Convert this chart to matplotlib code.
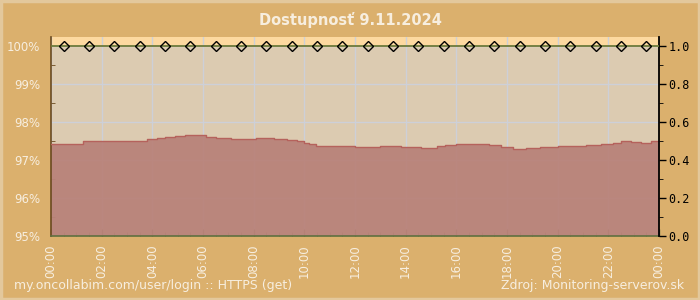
import numpy as np
import matplotlib
matplotlib.use("Agg")
import matplotlib.pyplot as plt
from matplotlib.patches import Rectangle

# ─── Data ─────────────────────────────────────────────────────────────────────
TITLE = "Dostupnosť 9.11.2024"
FOOT_LEFT = "my.oncollabim.com/user/login :: HTTPS (get)"
FOOT_RIGHT = "Zdroj: Monitoring-serverov.sk"

# availability (%) over the day, hours since midnight
hours = [0.0, 0.67, 1.25, 2.0, 3.0, 3.5, 3.8, 4.2, 4.5, 4.9, 5.3, 5.7, 6.1,
         6.5, 7.1, 8.1, 8.8, 9.3, 9.7, 10.0, 10.2, 10.45, 12.0, 13.0, 13.8,
         14.6, 14.7, 15.25, 15.55, 16.0, 16.65, 17.3, 17.75, 18.25, 18.75,
         19.3, 20.0, 21.1, 21.7, 22.2, 22.5, 22.9, 23.3, 23.7, 24.0]
availability = [97.41, 97.43, 97.49, 97.49, 97.49, 97.49, 97.55, 97.59, 97.61,
                97.64, 97.67, 97.65, 97.60, 97.57, 97.55, 97.57, 97.55, 97.53,
                97.50, 97.46, 97.43, 97.37, 97.33, 97.37, 97.34, 97.32, 97.31,
                97.36, 97.39, 97.43, 97.41, 97.39, 97.33, 97.29, 97.31, 97.33,
                97.36, 97.39, 97.42, 97.46, 97.49, 97.47, 97.44, 97.49, 97.49]

# hourly status checks (right axis)
check_hours = [h + 0.5 for h in range(24)]
check_status = [1.0] * 24

x_ticks = list(range(0, 25, 2))
x_labels = ["%02d:00" % (h % 24) for h in x_ticks]
y_ticks = [95, 96, 97, 98, 99, 100]
y_labels = ["%d%%" % v for v in y_ticks]
r_ticks = [0.0, 0.2, 0.4, 0.6, 0.8, 1.0]

# ─── Style ────────────────────────────────────────────────────────────────────
BG = "#dbb06d"
BORDER = "#e3c89c"
PLOT_BG = "#dccbb1"
TOP_BAND = "#fdd9a0"
FILL = "#b9837a"
FILL_EDGE = "#b5625c"
GRID = "#cdd0d8"
CREAM = "#f7eedf"
Y_TOP = 100 + 9 / 38.0

fig = plt.figure(figsize=(7, 3), dpi=100, facecolor=BG)

# light frame around the image
fig.patches.append(Rectangle((0.002, 0.004), 0.996, 0.992, transform=fig.transFigure,
                             fill=False, edgecolor=BORDER, linewidth=2.5))

ax = fig.add_axes([51 / 700, 1 - 236 / 300, 608 / 700, 199 / 300])
ax.set_facecolor(PLOT_BG)
ax.set_xlim(0, 24)
ax.set_ylim(95, Y_TOP)
ax.axhspan(100, Y_TOP, color=TOP_BAND, zorder=0)

ax.set_xticks(x_ticks)
ax.set_xticklabels(x_labels, rotation=90, color=CREAM, fontsize=8.5)
ax.set_xticks(np.arange(0, 24.01, 0.5), minor=True)
ax.set_yticks(y_ticks)
ax.set_yticklabels(y_labels, color=CREAM, fontsize=8.5)
ax.set_yticks(np.arange(95, 100.01, 0.5), minor=True)
ax.grid(True, which="major", color=GRID, linewidth=1, zorder=0.5)
ax.set_axisbelow(True)

ax.tick_params(axis="x", which="major", direction="in", length=5, color="#5f7040",
               pad=6, width=1)
ax.tick_params(axis="x", which="minor", direction="in", length=3, color="#5f7040")
ax.tick_params(axis="y", which="both", direction="in", length=3, color="#6b4a1e",
               pad=8)
ax.tick_params(axis="y", which="major", length=0)

for side in ("top", "right"):
    ax.spines[side].set_visible(False)
ax.spines["left"].set_color("#6b4a1e")
ax.spines["bottom"].set_color("#5f7040")
ax.spines["left"].set_linewidth(1.2)
ax.spines["bottom"].set_linewidth(1.2)

ax.fill_between(hours, availability, 95, step="post", color=FILL, alpha=0.95,
                linewidth=0, zorder=2)
ax.step(hours, availability, where="post", color=FILL_EDGE, linewidth=1, zorder=3)

# right axis with status checks
ax2 = ax.twinx()
ax2.set_ylim(0, (Y_TOP - 95) / 5.0)
ax2.set_yticks(r_ticks)
ax2.set_yticklabels(["%.1f" % v for v in r_ticks], family="DejaVu Sans Mono",
                    fontsize=8.5, color="black")
ax2.set_yticks(np.arange(0, 1.01, 0.1), minor=True)
ax2.tick_params(axis="y", which="major", direction="out", length=5, width=1,
                color="black", pad=2)
ax2.tick_params(axis="y", which="minor", direction="out", length=3, color="black")
for side in ("top", "left", "bottom"):
    ax2.spines[side].set_visible(False)
ax2.spines["right"].set_color("black")
ax2.spines["right"].set_linewidth(1.3)

ax2.plot([0, 24], [1.0, 1.0], color="#6e7a3a", linewidth=1.3, zorder=4)
ax2.plot(check_hours, check_status, linestyle="none", marker="D", markersize=4.8,
         markerfacecolor="none", markeredgecolor="black", markeredgewidth=1,
         zorder=5)

fig.text(0.5, 1 - 20 / 300, TITLE, ha="center", va="center", color=CREAM,
         fontsize=10.5, fontweight="bold")
fig.text(14 / 700, 1 - 286 / 300, FOOT_LEFT, ha="left", va="center", color=CREAM,
         fontsize=9)
fig.text(684 / 700, 1 - 286 / 300, FOOT_RIGHT, ha="right", va="center", color=CREAM,
         fontsize=9)

fig.savefig("out.png", dpi=100, facecolor=BG)
